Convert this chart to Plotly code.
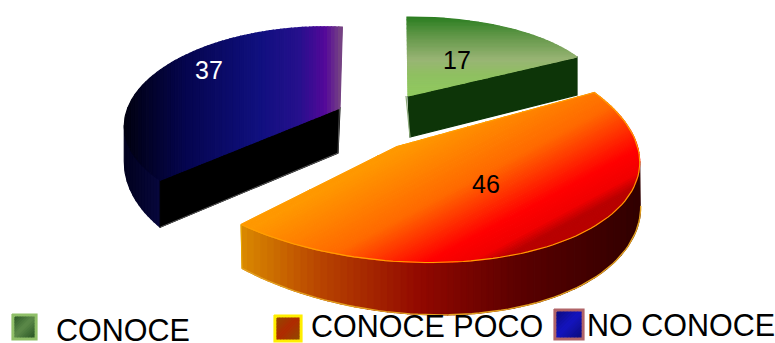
import numpy as np
import plotly.graph_objects as go

categories = ["CONOCE", "CONOCE POCO", "NO CONOCE"]
values = [17, 46, 37]
label_colors = ["#000000", "#000000", "#ffffff"]


def hex2rgb(h):
    return np.array([int(h[i:i + 2], 16) for i in (1, 3, 5)], float)


def color_at(stops, t):
    pos = [s[0] for s in stops]
    rgb = np.array([hex2rgb(s[1]) for s in stops])
    c = [np.interp(t, pos, rgb[:, i]) for i in range(3)]
    return "rgb(%d,%d,%d)" % tuple(round(v) for v in c)


def clip(poly, n, lo, hi):
    """Keep the part of poly whose projection on n lies between lo and hi."""
    def half(p, sign, lim):
        out = []
        for i in range(len(p)):
            a, b = p[i], p[(i + 1) % len(p)]
            da, db = sign * (a @ n - lim), sign * (b @ n - lim)
            if da >= 0:
                out.append(a)
            if da * db < 0:
                out.append(a + (b - a) * da / (da - db))
        return out
    p = half(list(poly), 1, lo)
    if p:
        p = half(p, -1, hi)
    return p


fig = go.Figure()


def gradient(poly, direction, stops, start, stop, bands=60):
    """Polygon filled with a linear gradient, drawn as thin solid bands."""
    poly = np.asarray(poly, float)
    n = np.asarray(direction, float)
    n = n / np.linalg.norm(n)
    proj = poly @ n
    edges = np.linspace(proj.min(), proj.max(), bands + 1)
    for lo, hi in zip(edges[:-1], edges[1:]):
        p = clip(poly, n, lo, hi)
        if len(p) < 3:
            continue
        p = np.array(p + [p[0]])
        col = color_at(stops, ((lo + hi) / 2 - start) / (stop - start))
        fig.add_trace(go.Scatter(x=p[:, 0], y=p[:, 1], mode="lines", fill="toself",
                                 fillcolor=col, line=dict(color=col, width=1.2),
                                 hoverinfo="skip", showlegend=False))


def outline(pts, color, width=1.0):
    pts = np.asarray(pts)
    fig.add_trace(go.Scatter(x=pts[:, 0], y=pts[:, 1], mode="lines",
                             line=dict(color=color, width=width),
                             hoverinfo="skip", showlegend=False))


def arc(value, center, mid, side, n=90):
    half = np.radians(value * 3.6 / 2)
    t = np.linspace(-half, half, n)[:, None]
    return np.array(center) + np.array(mid) * np.cos(t) + np.array(side) * np.sin(t)


# ---- NO CONOCE
blue = arc(values[2], (316.8, 121.5), (-165, -45), (99.2, -83.4))
blue_hub = np.array([340.0, 108.0])
blue_wall = blue[: int(np.argmin(blue[:, 0])) + 1]
blue_drop = np.linspace(47, 36, len(blue_wall))[:, None] * [0, 1]
gradient(np.vstack([blue_wall, (blue_wall + blue_drop)[::-1]]), (1, 0),
         [(0, "#00001a"), (1, "#080840")], 120, 165, 12)
front = np.array([blue[0], blue_hub, blue_hub + [-2, 45], blue[0] + [0, 47]])
gradient(front, (1, 0), [(0, "#000000"), (1, "#000000")], 0, 1, 1)
outline(np.vstack([blue[0] + [0, 47], blue_hub + [-2, 45], blue_hub + [2, -81]]), "#555555", 1)
gradient(np.vstack([blue_hub, blue]), (1, 0),
         [(0, "#01010f"), (.28, "#05054e"), (.62, "#10107f"), (.8, "#25108c"),
          (.92, "#54089a"), (1, "#7a4a80")], 124, 343)

# ---- CONOCE
green = arc(values[0], (408, 96), (97.6, -68.5), (167, 39.3))
green_hub = np.array([408.0, 96.0])
gf = np.array([green_hub, green[-1], green[-1] + [0, 38], green_hub + [2, 41]])
gradient(gf, (1, 0), [(0, "#0d3508"), (1, "#0d3508")], 0, 1, 1)
outline(np.array([green_hub + [2, 41], green_hub + [-2, 0]]), "#8aa878", 1.2)
gradient(np.vstack([green_hub, green]), (0, 1),
         [(0, "#2a7d20"), (.3, "#6c9c50"), (.55, "#98b474"), (.75, "#8fc060"), (1, "#90c95f")], 17, 96)

# ---- CONOCE POCO
orange = arc(values[1], (397, 146.6), (165, 95), (178, -66.5))
orange_wall = orange[: int(np.argmax(orange[:, 0])) + 1]
drop = 44 + 9 * np.sin(np.linspace(0, np.pi, len(orange_wall)))
orange_low = orange_wall + np.column_stack([np.ones(len(drop)), drop])
gradient(np.vstack([orange_wall, orange_low[::-1]]), (1, 0),
         [(0, "#da8a00"), (.2, "#b84400"), (.45, "#920800"), (.7, "#5a0000"), (1, "#300000")], 241, 640)
outline(orange_low, "#e2a020", 1.4)
outline(np.array([orange[0], orange_low[0]]), "#e8a800", 1)
orange_poly = np.vstack([[397, 146.6], orange])
gradient(orange_poly, (0.47, 0.88),
         [(0, "#ff9800"), (.42, "#ff6a00"), (.78, "#ff0000"), (.92, "#f00000"), (1, "#b80000")],
         321, 465, 80)
outline(orange, "#ffa000", 1.1)
outline(np.array([orange[-1], [397, 146.6], orange[0]]), "#ffa000", 1)

# ---- value labels
lx = [457, 486, 209]
ly = [63, 187, 73]
fig.add_trace(go.Scatter(x=lx, y=ly, mode="text", text=[str(v) for v in values],
                         textfont=dict(family="Liberation Sans", size=25, color=label_colors),
                         textposition="middle center", hoverinfo="skip", showlegend=False))

# ---- legend
swatches = [
    (12, 314, 37, 340, "#8fbf68", "#1f4a1d", "#5d8a4a"),
    (274, 315, 302, 342, "#ffee00", "#8a5000", "#b02a00"),
    (554, 309, 584, 340, "#b06468", "#0a0a70", "#1515c0"),
]
for x0, y0, x1, y1, border, outer, inner in swatches:
    box = np.array([[x0, y0], [x1, y0], [x1, y1], [x0, y1]], float)
    gradient(box, (0, 1), [(0, border), (1, border)], 0, 1, 1)
    gradient(box + [[3, 3], [-3, 3], [-3, -3], [3, -3]], (1, 1),
             [(0, outer), (.5, inner), (1, outer)],
             (x0 + y0) / np.sqrt(2), (x1 + y1) / np.sqrt(2), 14)

legend_x = [54, 309, 585]
legend_y = [330, 326, 325]
for name, x, y in zip(categories, legend_x, legend_y):
    fig.add_annotation(x=x, y=y, text=name, showarrow=False, xanchor="left", yanchor="middle",
                       font=dict(family="Liberation Sans", size=30.5, color="#000000"),
                       xref="x", yref="y")

fig.update_layout(
    width=775, height=343, margin=dict(l=0, r=0, t=0, b=0),
    paper_bgcolor="#ffffff", plot_bgcolor="#ffffff", showlegend=False,
    xaxis=dict(range=[0, 775], visible=False, fixedrange=True),
    yaxis=dict(range=[343, 0], visible=False, fixedrange=True),
)
fig.write_html("out.html", config=dict(displayModeBar=False),
               post_script="document.body.style.margin='0';document.documentElement.style.overflow='hidden';")
